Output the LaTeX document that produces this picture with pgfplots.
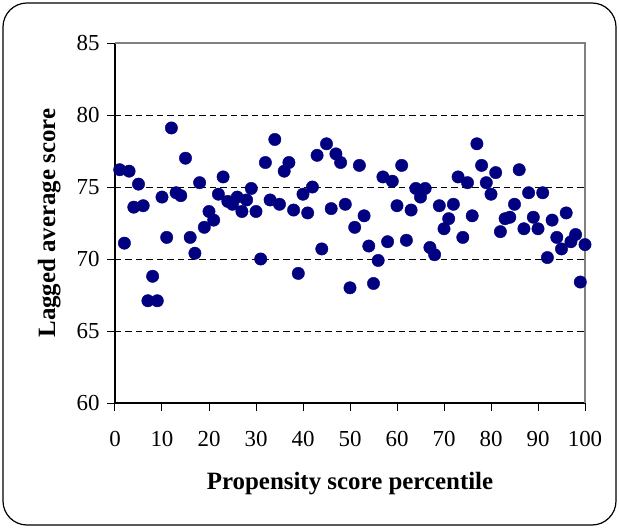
\documentclass[border=0pt]{standalone}
\usepackage{fontspec}
\setmainfont{Liberation Serif}
\usepackage{pgfplots}
\pgfplotsset{compat=1.18}
\definecolor{navyblue}{RGB}{0,0,128}
\definecolor{framegray}{RGB}{128,128,128}
\begin{document}
\begin{tikzpicture}
\path[use as bounding box] (-115bp,-125bp) rectangle (504bp,403bp);
\draw[line width=1.2bp, rounded corners=24bp] (-112bp,-122bp) rectangle (501bp,400bp);
\begin{axis}[
  at={(0,0)}, anchor=south west,
  scale only axis, width=470bp, height=360bp,
  xmin=0, xmax=100, ymin=60, ymax=85,
  xtick={0,10,...,100}, ytick={60,65,...,85},
  extra y ticks={65,70,75,80}, extra y tick labels={},
  extra y tick style={grid=major, major tick length=0pt},
  major grid style={black, line width=0.8bp, dash pattern=on 6.5bp off 4bp},
  axis lines*=left,
  axis line style={black, line width=1.2bp},
  tick style={black, line width=1bp},
  tick align=outside, major tick length=8bp,
  /pgf/number format/assume math mode=true,
  xticklabel style={font=\fontsize{23}{24}\selectfont, yshift=-17bp},
  yticklabel style={font=\fontsize{23}{24}\selectfont, xshift=-4bp},
  xlabel={Propensity score percentile},
  ylabel={Lagged average score},
  label style={font=\bfseries\fontsize{25}{27}\selectfont},
  x label style={at={(axis description cs:0.5,-0.225)}, anchor=center},
  y label style={at={(axis description cs:-0.14,0.5)}, anchor=center},
  clip=false,
]
\addplot[only marks, mark=*, mark size=6.2bp, mark options={draw=navyblue, fill=navyblue}] coordinates {
(1,76.2) (2,71.1) (3,76.1) (4,73.6) (5,75.2) (6,73.7) (7,67.1) (8,68.8) (9,67.1) (10,74.3)
(11,71.5) (12,79.1) (13,74.6) (14,74.4) (15,77.0) (16,71.5) (17,70.4) (18,75.3) (19,72.2) (20,73.3)
(21,72.7) (22,74.5) (23,75.7) (24,74.0) (25,73.8) (26,74.3) (27,73.3) (28,74.1) (29,74.9) (30,73.3)
(31,70.0) (32,76.7) (33,74.1) (34,78.3) (35,73.8) (36,76.1) (37,76.7) (38,73.4) (39,69.0) (40,74.5)
(41,73.2) (42,75.0) (43,77.2) (44,70.7) (45,78.0) (46,73.5) (47,77.3) (48,76.7) (49,73.8) (50,68.0)
(51,72.2) (52,76.5) (53,73.0) (54,70.9) (55,68.3) (56,69.9) (57,75.7) (58,71.2) (59,75.4) (60,73.7)
(61,76.5) (62,71.3) (63,73.4) (64,74.9) (65,74.3) (66,74.9) (67,70.8) (68,70.3) (69,73.7) (70,72.1)
(71,72.8) (72,73.8) (73,75.7) (74,71.5) (75,75.3) (76,73.0) (77,78.0) (78,76.5) (79,75.3) (80,74.5)
(81,76.0) (82,71.9) (83,72.8) (84,72.9) (85,73.8) (86,76.2) (87,72.1) (88,74.6) (89,72.9) (90,72.1)
(91,74.6) (92,70.1) (93,72.7) (94,71.5) (95,70.7) (96,73.2) (97,71.2) (98,71.7) (99,68.4) (100,71.0)
};
\draw[framegray, line width=1.2bp] (rel axis cs:0,1) -- (rel axis cs:1,1) -- (rel axis cs:1,0);
\end{axis}
\end{tikzpicture}
\end{document}
